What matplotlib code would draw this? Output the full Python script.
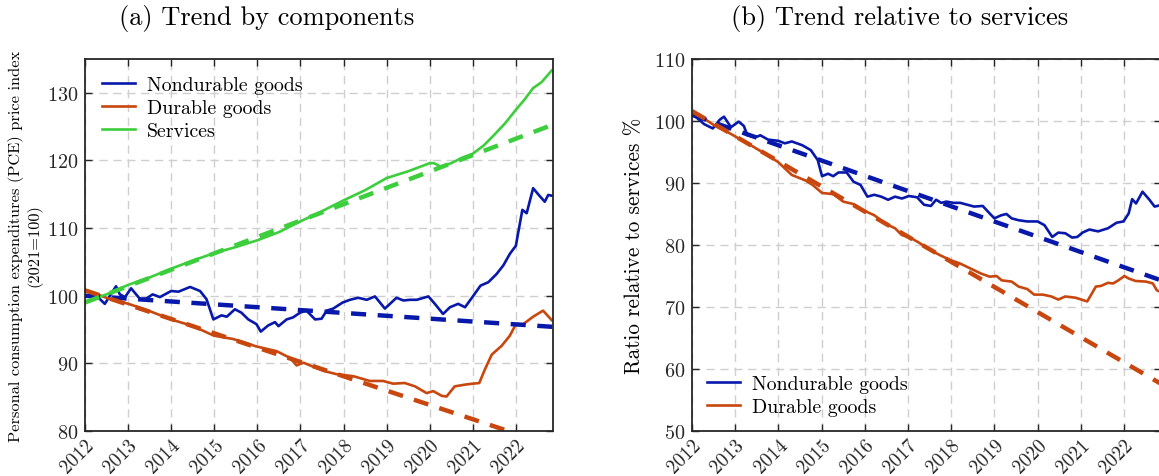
import matplotlib.pyplot as plt
from matplotlib.transforms import ScaledTranslation

plt.rcParams['font.family'] = ['cmr10', 'DejaVu Serif']
plt.rcParams['axes.formatter.use_mathtext'] = True
plt.rcParams['mathtext.fontset'] = 'cm'

# PCE price indexes by component (2021=100)
nd_years = [2012.0, 2012.27, 2012.46, 2012.58, 2012.72, 2012.81, 2012.93, 2013.07, 2013.28,
            2013.43, 2013.57, 2013.74, 2014.0, 2014.17, 2014.44, 2014.67, 2014.82, 2014.98,
            2015.17, 2015.29, 2015.48, 2015.63, 2015.79, 2015.98, 2016.08, 2016.25, 2016.41,
            2016.49, 2016.68, 2016.83, 2016.99, 2017.14, 2017.34, 2017.49, 2017.61, 2017.76,
            2017.98, 2018.15, 2018.34, 2018.54, 2018.73, 2018.96, 2019.23, 2019.39, 2019.54,
            2019.7, 2019.97, 2020.12, 2020.31, 2020.47, 2020.66, 2020.82, 2020.99, 2021.18,
            2021.36, 2021.55, 2021.71, 2021.86, 2022.0, 2022.03, 2022.15, 2022.25, 2022.4,
            2022.53, 2022.67, 2022.75, 2022.83]
nd_index = [100.0, 100.0, 98.8, 100.0, 101.4, 100.2, 99.8, 101.1, 99.5,
            99.6, 100.2, 99.8, 100.7, 100.6, 101.3, 100.7, 99.5, 96.5,
            97.1, 96.9, 98.0, 97.5, 96.5, 95.8, 94.7, 95.6, 96.1,
            95.5, 96.5, 96.8, 97.5, 97.8, 96.5, 96.6, 97.8, 98.1,
            99.0, 99.4, 99.7, 99.4, 99.9, 98.1, 99.7, 99.3, 99.4,
            99.4, 99.9, 98.8, 97.3, 98.3, 98.8, 98.3, 99.8, 101.5,
            102.0, 103.2, 104.5, 106.2, 107.4, 108.5, 112.7, 112.2, 115.9,
            114.9, 113.9, 114.9, 114.8]

dur_years = [2012.0, 2012.08, 2012.58, 2013.01, 2013.43, 2014.0, 2014.51, 2014.99, 2015.44,
             2015.98, 2016.45, 2016.76, 2016.91, 2017.07, 2017.53, 2017.84, 2018.23, 2018.61,
             2018.92, 2019.15, 2019.42, 2019.66, 2019.93, 2020.08, 2020.28, 2020.39, 2020.58,
             2020.86, 2021.15, 2021.28, 2021.44, 2021.67, 2021.86, 2022.0, 2022.17, 2022.4,
             2022.63, 2022.83]
dur_index = [100.8, 100.7, 99.5, 98.8, 97.9, 96.5, 95.5, 94.1, 93.6,
             92.5, 91.8, 90.8, 89.7, 90.1, 88.9, 88.4, 88.1, 87.4,
             87.4, 87.0, 87.1, 86.6, 85.6, 85.9, 85.2, 85.1, 86.6,
             86.9, 87.1, 89.1, 91.3, 92.6, 94.1, 95.8, 95.8, 96.9,
             97.8, 96.4]

svc_years = [2012.0, 2012.5, 2013.0, 2013.5, 2014.0, 2014.5, 2015.0, 2015.5, 2016.0, 2016.5,
             2017.0, 2017.5, 2018.0, 2018.5, 2019.0, 2019.5, 2020.0, 2020.1, 2020.25, 2020.5,
             2020.75, 2021.0, 2021.25, 2021.5, 2021.75, 2022.0, 2022.2, 2022.4, 2022.6, 2022.83]
svc_index = [99.1, 100.2, 101.6, 102.7, 104.0, 105.2, 106.3, 107.2, 108.2, 109.4,
             111.0, 112.5, 114.1, 115.6, 117.4, 118.4, 119.6, 119.6, 119.1, 119.6,
             120.4, 121.0, 122.2, 123.8, 125.5, 127.5, 129.0, 130.7, 131.6, 133.3]

# Goods prices relative to services (%)
nd_rel_years = [2012.08, 2012.28, 2012.48, 2012.64, 2012.74, 2012.9, 2013.08, 2013.2, 2013.28,
                2013.48, 2013.58, 2013.76, 2014.0, 2014.15, 2014.31, 2014.43, 2014.55, 2014.75,
                2014.91, 2015.01, 2015.15, 2015.27, 2015.39, 2015.58, 2015.74, 2015.9, 2016.06,
                2016.22, 2016.38, 2016.54, 2016.7, 2016.86, 2017.02, 2017.21, 2017.37, 2017.53,
                2017.65, 2017.77, 2017.89, 2018.05, 2018.21, 2018.37, 2018.53, 2018.73, 2018.89,
                2019.0, 2019.16, 2019.28, 2019.4, 2019.56, 2019.76, 2020.0, 2020.16, 2020.34,
                2020.48, 2020.64, 2020.8, 2020.92, 2021.04, 2021.2, 2021.4, 2021.63, 2021.83,
                2021.99, 2022.11, 2022.19, 2022.28, 2022.43, 2022.59, 2022.71, 2022.83]
nd_rel = [100.7, 99.5, 98.8, 100.2, 100.7, 99.0, 99.9, 99.2, 97.7,
          97.4, 97.7, 97.0, 96.8, 96.4, 96.7, 96.4, 96.1, 95.3,
          93.7, 91.1, 91.5, 91.1, 91.7, 91.7, 90.2, 89.7, 87.8,
          88.1, 87.8, 87.3, 87.8, 87.5, 87.9, 87.7, 86.5, 86.3,
          87.3, 86.8, 87.0, 86.8, 86.8, 86.5, 86.2, 86.3, 85.1,
          84.3, 84.8, 85.0, 84.3, 84.0, 83.8, 83.8, 83.2, 81.3,
          82.0, 81.9, 81.2, 81.3, 82.0, 82.5, 82.2, 82.7, 83.6,
          83.8, 85.1, 87.4, 86.7, 88.6, 87.3, 86.2, 86.4]

dur_rel_years = [2012.08, 2012.32, 2012.56, 2012.8, 2013.08, 2013.36, 2013.67, 2013.99, 2014.31,
                 2014.63, 2014.79, 2015.01, 2015.27, 2015.5, 2015.74, 2015.9, 2016.22, 2016.46,
                 2016.7, 2016.86, 2017.02, 2017.25, 2017.49, 2017.73, 2017.97, 2018.21, 2018.45,
                 2018.69, 2018.89, 2019.05, 2019.17, 2019.4, 2019.56, 2019.76, 2019.92, 2020.12,
                 2020.32, 2020.48, 2020.64, 2020.88, 2021.15, 2021.35, 2021.47, 2021.63, 2021.75,
                 2021.87, 2022.01, 2022.11, 2022.27, 2022.51, 2022.67, 2022.76, 2022.83]
dur_rel = [101.2, 100.2, 99.1, 98.3, 97.2, 96.1, 94.8, 93.4, 91.3,
           90.4, 89.7, 88.4, 88.2, 87.0, 86.6, 85.8, 84.8, 83.5,
           82.7, 81.6, 81.3, 80.4, 79.3, 78.4, 77.6, 77.0, 76.2,
           75.4, 74.9, 75.0, 74.3, 74.1, 73.3, 72.9, 72.0, 72.0,
           71.7, 71.2, 71.7, 71.5, 70.9, 73.3, 73.4, 73.9, 73.8,
           74.3, 75.0, 74.6, 74.2, 74.1, 73.8, 72.7, 72.5]

# linear trends (start / end of sample)
trend_years = [2012.0, 2022.86]
svc_trend = [99.0, 125.3]
nd_trend = [100.0, 95.4]
dur_trend = [100.8, 77.8]
nd_rel_trend = [101.0, 74.3]
dur_rel_trend = [101.6, 57.6]

year_ticks = list(range(2012, 2023))

blue = '#0818aa'
orange = '#c8470e'
green = '#3cce3c'
dash = (0, (3.4, 2.6))


def style_axes(ax, ymin, ymax):
    ax.set_xlim(2012, 2022.86)
    ax.set_ylim(ymin, ymax)
    ax.set_xticks(year_ticks)
    ax.set_xticklabels([str(y) for y in year_ticks], rotation=45, ha='right',
                       va='top', rotation_mode='anchor', fontsize=14)
    # nudge the slanted year labels a bit to the right of their ticks
    shift = ScaledTranslation(4 / 72, 0, fig.dpi_scale_trans)
    for lab in ax.get_xticklabels():
        lab.set_transform(lab.get_transform() + shift)
    ax.set_yticks(range(ymin, ymax + 1, 10))
    ax.grid(True, color='#cfcfcf', linestyle=(0, (6, 4)), linewidth=1.0)
    ax.tick_params(direction='in', length=5, width=1.0, top=True, right=True,
                   colors='#262626', pad=5)
    ax.tick_params(axis='y', labelsize=14.5)
    ax.tick_params(axis='x', pad=3)
    for s in ax.spines.values():
        s.set_linewidth(1.3)
        s.set_color('#262626')


fig = plt.figure(figsize=(11.59, 4.77), dpi=100)
ax1 = fig.add_axes([0.0733, 0.0943, 0.4038, 0.7799])
ax2 = fig.add_axes([0.5971, 0.0943, 0.4047, 0.7799])

# (a) levels
ax1.plot(nd_years, nd_index, color=blue, lw=1.9, label='Nondurable goods')
ax1.plot(dur_years, dur_index, color=orange, lw=1.9, label='Durable goods')
ax1.plot(svc_years, svc_index, color=green, lw=1.9, label='Services')
ax1.plot(trend_years, nd_trend, color=blue, lw=3.2, linestyle=dash)
ax1.plot(trend_years, dur_trend, color=orange, lw=3.2, linestyle=dash)
ax1.plot(trend_years, svc_trend, color=green, lw=3.2, linestyle=dash)
style_axes(ax1, 80, 135)
ax1.set_yticks(range(80, 131, 10))
ax1.set_ylabel('Personal consumption expenditures (PCE) price index\n(2021=100)',
               fontsize=11.8, linespacing=1.2, labelpad=3)
ax1.legend(loc='upper left', frameon=False, fontsize=14.3, handlelength=1.65,
           borderaxespad=0.45, labelspacing=0.25, handletextpad=0.6)

# (b) relative to services
ax2.plot(nd_rel_years, nd_rel, color=blue, lw=1.9, label='Nondurable goods')
ax2.plot(dur_rel_years, dur_rel, color=orange, lw=1.9, label='Durable goods')
ax2.plot(trend_years, nd_rel_trend, color=blue, lw=3.2, linestyle=dash)
ax2.plot(trend_years, dur_rel_trend, color=orange, lw=3.2, linestyle=dash)
style_axes(ax2, 50, 110)
ax2.set_ylabel('Ratio relative to services %', fontsize=15.3, labelpad=7)
ax2.legend(loc='lower left', frameon=False, fontsize=14.3, handlelength=1.65,
           borderaxespad=0.35, labelspacing=0.25, handletextpad=0.6)

fig.text(267 / 1159, 1 - 18 / 477, '(a) Trend by components', fontsize=19,
         ha='center', va='center')
fig.text(900 / 1159, 1 - 18 / 477, '(b) Trend relative to services', fontsize=19,
         ha='center', va='center')

fig.savefig('out.png', dpi=100)
